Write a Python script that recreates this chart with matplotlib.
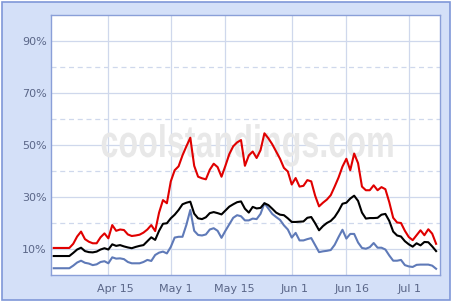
import matplotlib
matplotlib.use("Agg")
import matplotlib.pyplot as plt
import numpy as np
from matplotlib.patches import Rectangle, PathPatch
from matplotlib.textpath import TextPath
from matplotlib.font_manager import FontProperties
from matplotlib.transforms import Affine2D, ScaledTranslation

# days since Apr 1
days = np.arange(99)

red = [10.4, 10.4, 10.4, 10.4, 10.4, 12.0, 14.8, 16.7, 13.8, 12.8,
       12.2, 12.2, 14.5, 16.0, 14.1, 19.2, 17.0, 17.5, 17.3, 15.6,
       15.0, 15.2, 15.5, 16.3, 17.5, 19.2, 16.9, 24.0, 28.8, 27.6,
       36.0, 40.3, 41.8, 46.0, 49.5, 52.8, 42.0, 37.8, 37.2, 36.8,
       40.5, 42.8, 41.5, 37.8, 42.0, 46.5, 49.5, 51.0, 51.9, 42.0,
       46.0, 47.5, 45.0, 48.0, 54.5, 52.6, 50.3, 47.5, 44.7, 41.2,
       39.8, 34.8, 37.3, 34.0, 34.3, 36.5, 36.0, 30.5, 26.4, 27.8,
       29.0, 30.7, 34.0, 37.5, 41.7, 44.7, 40.3, 46.7, 43.0, 34.0,
       32.6, 32.6, 34.5, 32.6, 33.8, 33.0, 28.0, 22.0, 20.2, 20.0,
       17.0, 14.6, 13.4, 15.3, 17.2, 15.3, 17.6, 15.9, 12.0]

black = [7.3, 7.3, 7.3, 7.3, 7.3, 8.5, 9.8, 10.5, 9.2, 8.8,
         8.7, 9.0, 9.8, 10.3, 9.8, 11.8, 11.2, 11.5, 11.0, 10.6,
         10.3, 10.8, 11.2, 11.5, 13.0, 14.5, 13.5, 17.0, 19.7, 19.9,
         21.8, 23.2, 25.0, 27.2, 27.8, 28.2, 23.6, 21.8, 21.5, 22.2,
         23.8, 24.2, 23.8, 23.3, 24.8, 26.3, 27.2, 28.0, 28.3, 25.5,
         24.0, 26.2, 25.6, 25.8, 27.6, 26.9, 25.5, 24.0, 23.2, 23.0,
         21.8, 20.4, 20.4, 20.5, 20.6, 22.0, 22.3, 19.9, 17.2, 18.8,
         20.0, 20.8, 22.3, 24.6, 27.4, 27.8, 29.4, 30.5, 28.5, 24.0,
         21.7, 21.9, 21.9, 22.0, 23.2, 23.5, 20.8, 16.7, 15.2, 14.8,
         13.0, 11.8, 10.9, 12.2, 11.4, 12.7, 12.6, 11.0, 9.2]

blue = [2.6, 2.6, 2.6, 2.6, 2.6, 3.6, 4.8, 5.5, 4.7, 4.4,
        3.8, 4.1, 5.0, 5.3, 4.5, 6.8, 6.3, 6.4, 6.1, 5.0,
        4.5, 4.5, 4.5, 5.0, 5.8, 5.4, 7.7, 8.6, 9.0, 8.3,
        10.8, 14.4, 14.7, 14.7, 19.3, 25.0, 17.0, 15.4, 15.2, 15.6,
        17.5, 18.0, 17.0, 14.3, 17.0, 19.5, 22.0, 23.0, 22.6, 21.0,
        21.0, 21.7, 21.5, 23.5, 27.6, 25.6, 23.5, 22.3, 21.2, 19.1,
        17.5, 14.4, 16.2, 13.3, 13.3, 13.8, 14.2, 11.5, 8.8, 9.1,
        9.3, 9.6, 11.6, 14.6, 17.4, 14.0, 15.8, 15.8, 12.5, 10.4,
        10.1, 10.7, 12.3, 10.5, 10.5, 9.8, 7.5, 5.5, 5.5, 5.8,
        3.8, 3.3, 3.1, 3.9, 4.0, 4.0, 4.0, 3.6, 2.4]

tick_days = [14, 30, 44, 61, 75, 91]
tick_names = ['Apr 15', 'May 1', 'May 15', 'Jun 1', 'Jun 16', 'Jul 1']
ylabels = [10, 30, 50, 70, 90]
yminor = [20, 40, 60, 80]

W, H = 454, 304
fig = plt.figure(figsize=(W / 100, H / 100), dpi=100)
fig.patch.set_facecolor('white')

# light blue frame around the chart
fig.patches.append(Rectangle((1.5, 4.5), 448, 298, transform=None,
                             facecolor='#d4e0f8', edgecolor='#7f97d8',
                             lw=1.2, zorder=-5))

ax = fig.add_axes([51 / W, 29 / H, 389 / W, 260 / H])
ax.set_facecolor('white')

txt_color = '#5a6688'
grid_color = '#cfd8ec'

ax.set_xlim(-0.7, 99.0)
ax.set_ylim(0, 100)
ax.set_xticks(tick_days)
ax.set_xticklabels(tick_names, ha='left')
ax.set_yticks(ylabels)
ax.set_yticklabels(['%d%%' % v for v in ylabels])
ax.set_yticks(yminor, minor=True)
ax.tick_params(axis='both', which='both', length=0, labelsize=8,
               labelcolor=txt_color)
ax.tick_params(axis='x', pad=6.5)
ax.tick_params(axis='y', pad=3)
for lab in ax.get_xticklabels():
    lab.set_transform(lab.get_transform() +
                      ScaledTranslation(-11.5 / 100, 0, fig.dpi_scale_trans))

ax.set_axisbelow(True)
ax.grid(True, which='major', color=grid_color, lw=0.9)
ax.grid(True, which='minor', axis='y', color=grid_color, lw=0.9,
        ls=(0, (4, 3)))
for s in ax.spines.values():
    s.set_color('#8a9fd8')
    s.set_linewidth(1.0)

# watermark
fp = FontProperties(family='Liberation Sans', weight='bold')
tp = TextPath((0, 0), 'coolstandings.com', size=100, prop=fp)
ext = tp.get_extents()
xh = TextPath((0, 0), 'x', size=100, prop=fp).get_extents().height
tr = Affine2D().translate(-ext.x0, 0).scale(291 / ext.width, 24 / xh).translate(101.7, 147)
ax.add_patch(PathPatch(tp, transform=tr, fc='#e8e8e8', ec='none', zorder=1))
ax.set_xlim(-0.7, 99.0)
ax.set_ylim(0, 100)

ax.plot(days, red, color='#e00000', lw=1.5, zorder=3)
ax.plot(days, blue, color='#5f7ab8', lw=1.5, zorder=3)
ax.plot(days, black, color='black', lw=1.5, zorder=4)

fig.savefig('out.png', dpi=100)
